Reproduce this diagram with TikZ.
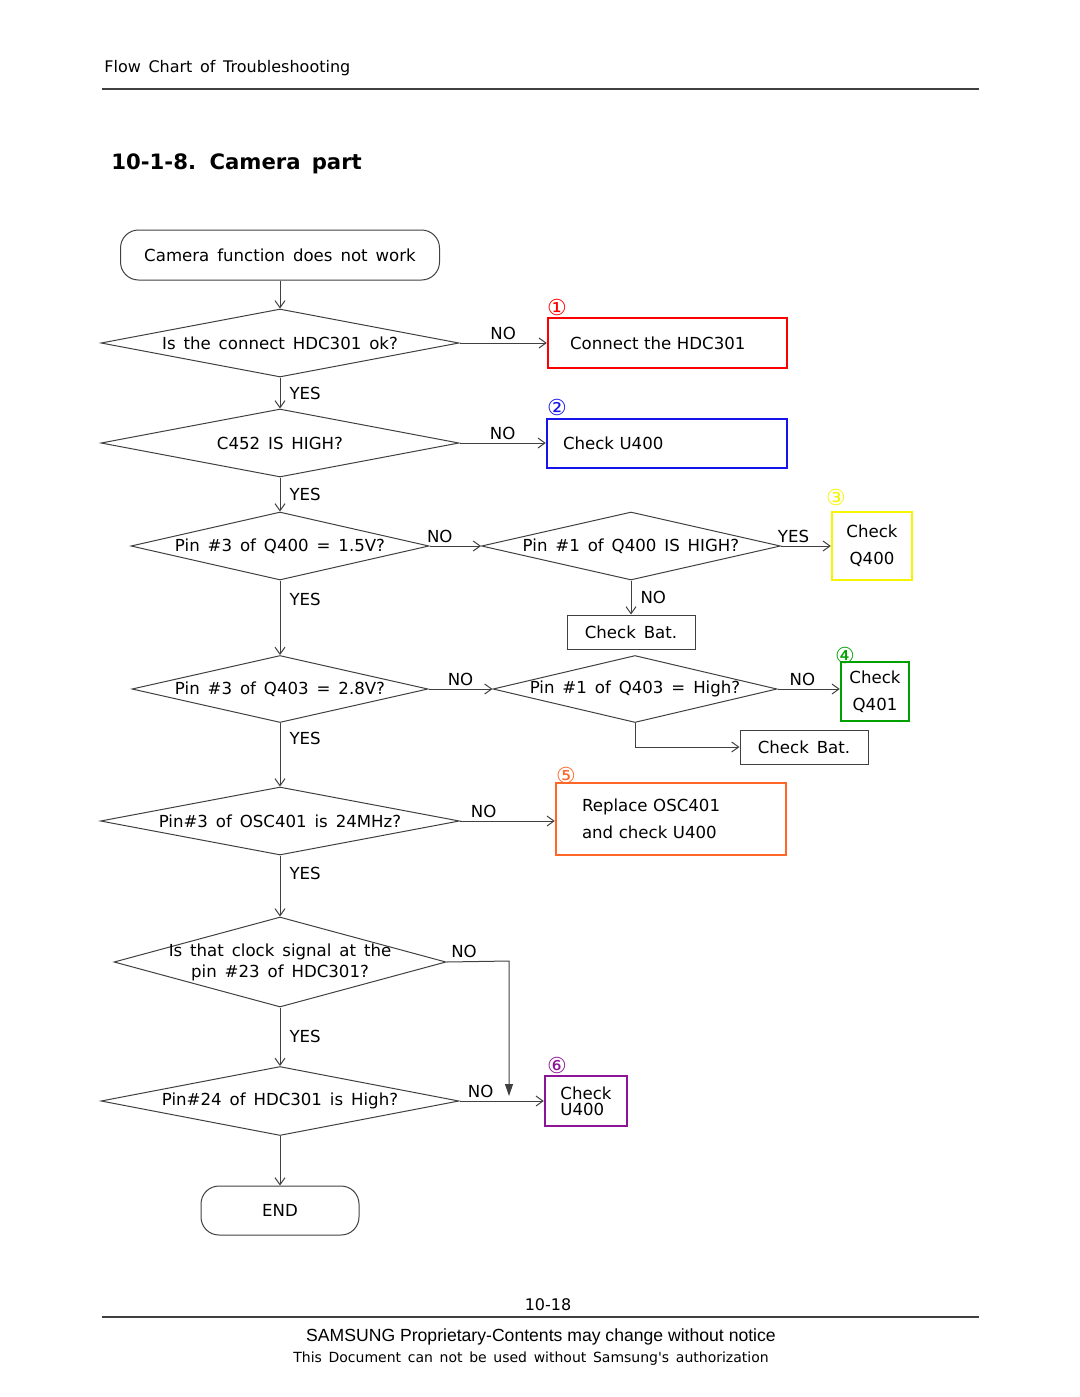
\documentclass[tikz,border=0pt]{standalone}
\usepackage{fontspec}
\setmainfont{DejaVu Sans}[WordSpace=1.5]
\newfontfamily\arialfont{Liberation Sans}
\newfontfamily\authfont{DejaVu Sans}[WordSpace=1.5]
\usetikzlibrary{shapes.geometric,arrows.meta}

\definecolor{boxred}{RGB}{255,0,0}
\definecolor{boxblue}{RGB}{20,20,235}
\definecolor{boxyellow}{RGB}{245,245,0}
\definecolor{boxgreen}{RGB}{0,160,0}
\definecolor{boxorange}{RGB}{255,102,40}
\definecolor{boxpurple}{RGB}{140,20,150}

\begin{document}
\begin{tikzpicture}[x=0.5pt,y=-0.5pt,
  font=\fontsize{8.3}{13.5}\selectfont,
  line/.style={draw=black!75, line width=0.5pt},
  flow/.style={line, -{Straight Barb[length=3.5pt,width=5pt]}},
  decision/.style={draw=black!75, line width=0.5pt, diamond, inner sep=0pt},
  terminal/.style={draw=black!75, line width=0.5pt, rectangle, rounded corners=9pt},
  plain/.style={draw=black!75, line width=0.5pt, rectangle},
  action/.style={rectangle, line width=1.2pt, align=left},
  num/.style={font=\fontsize{11}{11}\selectfont, inner sep=0pt},
  ans/.style={inner sep=1.5pt},
  side/.style={right, inner xsep=4.5pt}]
\useasboundingbox (0,0) rectangle (1080,1397);

%Header
\node[anchor=west, inner sep=0pt, font=\fontsize{8}{10}\selectfont] (head) at (104,68) {Flow Chart of Troubleshooting};
\draw[black!75, line width=0.6pt] (102,89) -- (979,89);
\node[anchor=west, inner sep=0pt, font=\bfseries\fontsize{10.6}{13}\selectfont] (title) at (111,164) {10-1-8. Camera part};

%Main column
\node[terminal, minimum width=159.5pt, minimum height=25pt] (start) at (280,255) {Camera function does not work};
\node[decision, minimum width=179pt, minimum height=34pt, label={center:Is the connect HDC301 ok?}] (hdc) at (280,343) {};
\node[decision, minimum width=179pt, minimum height=34pt, label={center:C452 IS HIGH?}] (cap) at (280,443) {};
\node[decision, minimum width=149pt, minimum height=34pt, label={center:Pin \#3 of Q400 = 1.5V?}] (qfour) at (280,546) {};
\node[decision, minimum width=148pt, minimum height=33.5pt, label={center:Pin \#3 of Q403 = 2.8V?}] (qthree) at (280,689) {};
\node[decision, minimum width=179.5pt, minimum height=34pt, label={center:Pin\#3 of OSC401 is 24MHz?}] (osc) at (280,821) {};
\node[decision, minimum width=166pt, minimum height=45pt, label={[align=center, font=\fontsize{8.3}{10.5}\selectfont]center:Is that clock signal at the\\pin \#23 of HDC301?}] (clk) at (280,962) {};
\node[decision, minimum width=179pt, minimum height=34.5pt, label={center:Pin\#24 of HDC301 is High?}] (pin) at (280,1101) {};
\node[terminal, minimum width=79pt, minimum height=24.5pt] (end) at (280,1210.5) {END};

%Right column
\node[decision, minimum width=149.5pt, minimum height=34pt, label={center:Pin \#1 of Q400 IS HIGH?}] (qfourhigh) at (631,546) {};
\node[decision, minimum width=142pt, minimum height=33.5pt, label={center:Pin \#1 of Q403 = High?}] (qthreehigh) at (635,689) {};
\node[plain, minimum width=64pt, minimum height=17pt] (batone) at (631,632) {Check Bat.};
\node[plain, minimum width=64pt, minimum height=17pt] (battwo) at (804,747) {Check Bat.};

%Numbered boxes
\node[action, draw=boxred, minimum height=25pt, inner xsep=11pt, text width=97.5pt] (fixhdc) at (667.5,343) {Connect the HDC301};
\node[action, draw=boxblue, minimum height=24.5pt, inner xsep=8pt, text width=104pt] (fixu) at (667,443.5) {Check U400};
\node[action, draw=boxyellow, minimum width=40pt, minimum height=34pt, align=center, inner sep=0pt] (fixq) at (872,546) {Check\\Q400};
\node[action, draw=boxgreen, minimum width=34pt, minimum height=29.5pt, align=center, inner sep=0pt] (fixqone) at (875,691.5) {Check\\Q401};
\node[action, draw=boxorange, minimum height=36pt, inner xsep=13pt, text width=89pt] (fixosc) at (671,819) {Replace OSC401\\and check U400};
\node[action, draw=boxpurple, minimum width=41pt, minimum height=25pt, align=left, inner sep=0pt, font=\fontsize{8.3}{8}\selectfont] (fixpin) at (586,1101) {Check\\U400};

\node[num, text=boxred] (nA) at (557,307) {①};
\node[num, text=boxblue] (nB) at (557,407) {②};
\node[num, text=boxyellow] (nC) at (836,497) {③};
\node[num, text=boxgreen] (nD) at (845,655) {④};
\node[num, text=boxorange] (nE) at (566,775) {⑤};
\node[num, text=boxpurple] (nF) at (557,1065) {⑥};

%Connectors
\draw[flow] (start.south) -- (hdc.north);
\draw[flow] (hdc.east) -- node[above, ans] {NO} (hdc.east -| fixhdc.west);
\draw[flow] (hdc.south) -- node[side] {YES} (cap.north);
\draw[flow] (cap.east) -- node[above, ans] {NO} (cap.east -| fixu.west);
\draw[flow] (cap.south) -- node[side] {YES} (qfour.north);
\draw[flow] (qfour.east) -- node[above, ans, pos=0.2] {NO} (qfourhigh.west);
\draw[flow] (qfourhigh.east) -- node[above, ans, pos=0.25] {YES} (qfourhigh.east -| fixq.west);
\draw[flow] (qfourhigh.south) -- node[side] {NO} (batone.north);
\draw[flow] (qfour.south) -- node[side, pos=0.25] {YES} (qthree.north);
\draw[flow] (qthree.east) -- node[above, ans] {NO} (qthreehigh.west);
\draw[flow] (qthreehigh.east) -- node[above, ans, pos=0.4] {NO} (qthreehigh.east -| fixqone.west);
\draw[flow] (qthreehigh.south) |- (battwo.west);
\draw[flow] (qthree.south) -- node[side, pos=0.25] {YES} (osc.north);
\draw[flow] (osc.east) -- node[above, ans, pos=0.25] {NO} (osc.east -| fixosc.west);
\draw[flow] (osc.south) -- node[side, pos=0.3] {YES} (clk.north);
\coordinate (clkturn) at (509,961);
\coordinate (clkend) at (509,1096);
\draw[line, -{Triangle[length=6pt,width=4pt]}] (clk.east) -- node[above, ans, pos=0.28] {NO} (clkturn) -- (clkend);
\draw[flow] (clk.south) -- node[side] {YES} (pin.north);
\draw[flow] (pin.east) -- node[above, ans, pos=0.25] {NO} (fixpin.west);
\draw[flow] (pin.south) -- (end.north);

%Footer
\node[inner sep=0pt, font=\fontsize{8}{10}\selectfont] (page) at (548,1305) {10-18};
\draw[black!75, line width=0.6pt] (102,1317) -- (979,1317);
\node[inner sep=0pt, font=\arialfont\fontsize{8.8}{10}\selectfont] (notice) at (541,1337) {SAMSUNG Proprietary-Contents may change without notice};
\node[inner sep=0pt, font=\authfont\fontsize{7}{9}\selectfont] (auth) at (531,1359) {This Document can not be used without Samsung's authorization};
\end{tikzpicture}
\end{document}
